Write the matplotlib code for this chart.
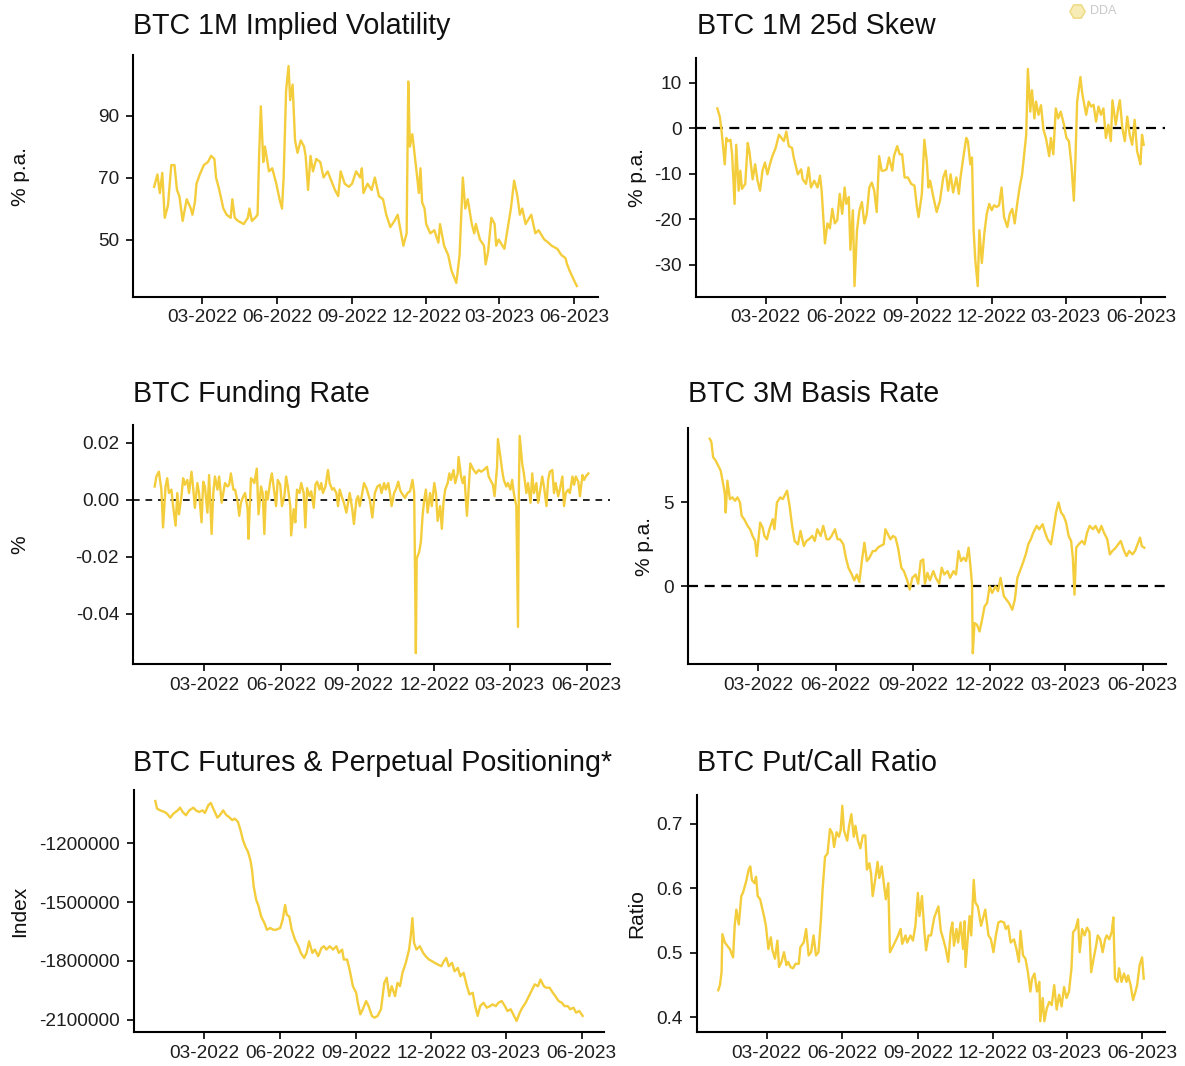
import matplotlib
matplotlib.use("Agg")
import matplotlib.pyplot as plt
import matplotlib.dates as mdates
from matplotlib.lines import Line2D
import numpy as np
import pandas as pd

plt.rcParams['font.family'] = ['Liberation Sans', 'DejaVu Sans']

START = "2022-01-01"
LINE_COLOR = "#F4CD3C"

# ---------------- data: (days since 2022-01-01, value) ----------------
iv = [(0,67),(4,71),(7,65),(10,71.5),(13,57),(17,61),(21,74),(25,74),(28,66),(31,64),(35,56),(40,63),
      (45,60),(47,58),(50,62),(52,68),(56,71),(61,74),(66,75),(70,77),(74,76),(76,70),(80,66),(85,60),
      (89,58),(94,57),(96,63),(99,57),(103,56),(110,55),(115,57),(117,60),(120,56),(124,57),(127,58),
      (129,78),(131,93),(134,75),(136,80),(141,72),(145,73),(150,68),(154,63),(157,60),(159,70),(162,98),
      (165,106),(167,95),(170,100),(173,82),(176,78),(180,82),(184,80),(186,77),(189,66),(192,77),(195,72),
      (199,76),(204,75),(208,70),(213,72),(222,66),(226,64),(229,72),(234,68),(239,67),(243,68),(248,72),
      (253,70),(255,73),(257,65),(262,68),(267,66),(271,70),(276,64),(281,63),(285,58),(290,54),(295,56),
      (299,58),(306,48),(310,52),(312,101),(314,80),(317,84),(320,77),(323,70),(325,65),(327,73),(329,62),
      (332,60),(334,55),(339,52),(344,53),(349,49),(351,55),(356,48),(361,45),(365,40),(371,36),(375,45),
      (379,70),(382,60),(385,63),(390,55),(393,52),(395,55),(400,50),(405,48),(407,42),(410,46),(414,57),
      (418,55),(420,48),(423,50),(430,47),(435,55),(438,60),(442,69),(446,64),(449,58),(452,60),(456,55),
      (463,58),(468,52),(472,53),(479,50),(484,49),(488,48),(495,47),(500,45),(505,44),(507,42),(510,40),
      (517,36),(519,35)]

skew = [(0,4.4),(3,2.6),(5,-0.3),(7,-3.9),(9,-7.9),(11,-2.1),(13,-2.8),(16,-2.5),(18,-5.7),(21,-16.6),
        (23,-3.6),(26,-13.7),(28,-9.3),(30,-13.3),(34,-12.2),(37,-3.2),(39,-5.0),(43,-11.2),(46,-7.9),
        (49,-11.5),(52,-13.7),(55,-9.3),(58,-7.5),(61,-10.1),(64,-7.9),(67,-6.1),(71,-4.3),(75,-1.4),
        (78,-2.1),(81,-2.8),(84,-0.7),(87,-3.9),(91,-4.3),(93,-6.4),(98,-10.1),(102,-9.0),(104,-11.2),
        (108,-12.2),(111,-8.6),(114,-13.0),(118,-11.5),(122,-13.0),(125,-10.4),(127,-13.7),(129,-19.5),
        (131,-25.3),(134,-20.9),(137,-22.0),(140,-17.7),(143,-20.9),(146,-20.2),(149,-14.4),(152,-18.8),
        (155,-13.0),(157,-16.6),(160,-15.1),(162,-26.7),(165,-18.0),(167,-34.7),(170,-22.4),(173,-18.0),
        (176,-16.2),(179,-20.9),(182,-18.8),(185,-13.0),(188,-11.9),(191,-13.7),(194,-18.4),(197,-6.1),
        (200,-9.3),(203,-9.3),(206,-9.0),(209,-6.4),(213,-9.3),(215,-6.1),(219,-3.9),(222,-5.7),(225,-5.7),
        (228,-10.8),(232,-10.8),(236,-12.2),(240,-12.6),(243,-17.3),(245,-19.5),(249,-14.4),(252,-2.5),
        (255,-7.2),(257,-13.0),(259,-11.5),(263,-15.1),(267,-18.4),(271,-15.9),(275,-10.8),(278,-9.3),
        (281,-13.7),(284,-10.1),(287,-14.1),(291,-10.8),(294,-14.4),(296,-10.8),(300,-5.7),(303,-2.1),
        (305,-2.8),(308,-7.9),(310,-6.4),(312,-22.4),(314,-28.9),(317,-34.7),(319,-22.4),(322,-29.6),
        (325,-23.1),(328,-18.8),(331,-16.6),(334,-18.0),(337,-16.9),(340,-17.3),(343,-16.9),(346,-13.0),
        (349,-19.5),(353,-21.7),(356,-18.8),(359,-17.7),(362,-20.9),(365,-16.6),(368,-13.0),(371,-10.1),
        (374,-5.0),(376,-1.4),(378,13.1),(381,3.7),(383,8.4),(386,2.2),(388,5.9),(391,3.0),(394,5.1),
        (397,-0.3),(400,-2.1),(404,-6.1),(406,-2.1),(409,-5.7),(412,4.4),(415,2.2),(418,3.7),(422,0.8),
        (425,-2.1),(428,-2.8),(431,-7.9),(434,-15.9),(436,-6.4),(438,5.9),(442,11.3),(444,8.0),(446,5.9),
        (449,3.0),(452,5.9),(455,4.8),(458,5.2),(461,1.5),(464,4.8),(467,3.0),(470,4.4),(473,-2.1),
        (476,0.8),(479,-2.8),(481,6.2),(485,0.8),(488,4.4),(490,6.2),(493,0.1),(496,-2.8),(499,2.6),
        (502,-1.4),(505,-3.6),(508,1.9),(511,-5.0),(513,-6.4),(515,-7.9),(517,-1.4),(519,-3.6)]

funding = [(0,.0047),(2,.0082),(5,.0099),(8,.0036),(10,-.0097),(13,.0047),(15,.0076),(17,.0024),(20,.0036),
           (22,-.0022),(25,-.0091),(27,.0024),(29,-.0051),(32,.0013),(34,.0076),(36,.0053),(39,.0070),
           (41,.0024),(44,.0099),(46,.0041),(48,-.0028),(51,.0059),(53,.0024),(56,-.0079),(58,.0064),
           (60,.0047),(63,-.0045),(65,.0087),(68,-.0120),(70,.0024),(72,.0082),(75,.0036),(77,.0082),
           (80,-.0010),(82,.0024),(84,.0059),(87,.0047),(89,.0053),(91,.0093),(94,.0036),(96,.0036),
           (99,-.0005),(101,-.0056),(103,-.0010),(106,.0013),(108,.0024),(111,-.0033),(112,-.0137),
           (115,.0076),(117,.0070),(119,.0059),(122,.0110),(124,-.0051),(127,.0047),(129,.0024),
           (131,-.0120),(133,.0030),(135,.0001),(138,.0064),(140,.0093),(143,.0024),(145,-.0022),
           (147,.0070),(150,.0053),(152,-.0022),(155,.0013),(157,.0082),(159,.0047),(162,-.0022),
           (163,-.0125),(166,-.0033),(168,-.0079),(170,.0036),(173,.0024),(175,.0059),(178,.0024),
           (180,-.0097),(182,.0041),(185,.0013),(187,.0030),(190,-.0028),(192,.0053),(194,.0064),
           (197,.0036),(199,.0059),(201,.0024),(204,.0047),(207,.0105),(209,.0059),(212,.0036),
           (214,.0041),(217,.0024),(219,-.0022),(221,.0036),(224,.0007),(226,-.0010),(229,-.0045),
           (231,-.0010),(233,.0024),(236,-.0033),(238,-.0085),(241,.0001),(243,.0013),(245,-.0022),
           (248,.0024),(250,.0059),(253,.0041),(257,.0001),(260,-.0062),(263,.0024),(266,.0047),
           (269,.0053),(271,.0024),(274,.0059),(276,.0036),(279,.0059),(281,.0024),(283,-.0022),
           (286,.0024),(288,.0036),(291,.0064),(293,.0036),(295,.0024),(299,.0007),(302,.0024),
           (305,.0030),(308,.0070),(310,.0024),(312,-.0539),(313,-.0206),(316,-.0183),(318,-.0148),
           (320,-.0056),(322,.0001),(324,.0036),(326,-.0045),(329,.0024),(331,-.0022),(334,.0059),
           (336,.0024),(338,-.0074),(341,-.0022),(343,-.0102),(345,-.0010),(347,.0036),(350,.0059),
           (352,.0093),(354,.0070),(357,.0105),(359,.0059),(362,.0093),(363,.0151),(366,.0082),
           (368,.0059),(370,.0082),(373,-.0056),(375,.0036),(377,.0128),(381,.0105),(384,.0093),
           (387,.0105),(390,.0099),(393,.0105),(397,.0116),(399,.0082),(401,.0070),(404,.0053),
           (406,.0013),(409,.0116),(410,.0214),(413,.0151),(415,.0105),(417,.0070),(420,.0047),
           (422,.0059),(425,.0036),(427,.0070),(429,.0024),(432,-.0022),(434,-.0447),(435,.0024),
           (436,.0225),(439,.0128),(441,.0093),(444,.0024),(446,.0059),(449,-.0010),(451,.0093),
           (453,.0024),(456,.0059),(458,-.0010),(460,.0024),(463,.0082),(465,.0047),(468,-.0022),
           (470,.0070),(472,.0099),(475,.0105),(477,.0024),(479,.0059),(482,.0013),(484,.0036),
           (487,.0082),(489,-.0022),(491,.0024),(494,.0036),(496,.0024),(499,.0082),(501,.0053),
           (503,.0082),(506,.0064),(508,.0013),(511,.0087),(513,.0070),(515,.0082),(518,.0093)]

basis = [(1,8.8),(3,8.6),(5,7.7),(8,7.5),(11,7.2),(14,6.9),(17,6.1),(19,5.5),(20,4.4),(22,6.3),(25,5.2),
         (28,5.3),(31,5.1),(34,5.3),(37,5.0),(39,4.2),(42,4.0),(46,3.6),(49,3.4),(52,3.0),(55,2.7),(57,1.8),
         (59,2.8),(61,3.8),(64,3.5),(66,3.0),(69,2.8),(72,3.4),(76,4.0),(78,3.4),(81,5.0),(85,5.3),(88,5.2),
         (91,5.5),(93,5.7),(96,4.8),(99,3.6),(102,2.7),(106,2.5),(109,3.3),(113,2.4),(116,2.7),(119,2.8),
         (123,3.0),(126,2.7),(129,3.4),(133,3.0),(136,3.6),(140,2.8),(143,2.8),(146,3.0),(150,3.4),
         (153,2.8),(156,2.8),(160,2.5),(163,1.7),(166,1.1),(170,0.7),(173,0.35),(176,0.7),(179,0.25),
         (182,1.5),(185,2.6),(188,1.5),(191,1.7),(195,2.1),(198,2.1),(201,2.3),(204,2.4),(208,2.5),
         (210,3.4),(212,3.2),(216,2.8),(219,3.0),(222,2.9),(225,2.3),(229,1.1),(232,0.9),(236,0.35),
         (239,-0.2),(242,0.5),(246,0.7),(249,0.15),(252,1.5),(255,1.6),(257,0.15),(260,0.8),(263,0.35),
         (267,0.9),(270,0.5),(274,0.15),(277,1.1),(280,0.7),(284,0.9),(287,0.5),(291,0.9),(294,0.7),
         (297,2.1),(300,1.5),(303,1.7),(306,1.5),(309,2.3),(311,1.3),(313,0.15),(314,-4.0),(316,-2.2),
         (319,-2.3),(322,-2.7),(325,-2.0),(328,-1.2),(331,-1.0),(334,0.0),(337,-0.4),(341,0.0),(344,-0.3),
         (347,0.5),(351,-0.6),(354,-0.8),(357,-1.0),(361,-1.4),(364,-0.8),(367,0.5),(370,0.9),(373,1.3),
         (377,1.9),(380,2.5),(383,2.8),(386,3.2),(390,3.6),(393,3.4),(397,3.7),(400,3.2),(403,2.8),
         (407,2.5),(410,3.4),(413,4.4),(416,5.0),(419,4.4),(422,4.2),(425,3.8),(428,3.0),(431,2.7),
         (433,1.7),(435,-0.5),(437,2.3),(440,2.5),(444,2.7),(447,2.5),(450,3.2),(453,3.6),(457,3.4),
         (460,3.6),(464,3.2),(467,3.6),(470,3.2),(474,2.8),(477,1.9),(480,2.1),(484,2.3),(487,2.5),
         (490,2.7),(494,2.1),(497,1.8),(500,2.1),(504,1.9),(507,2.1),(510,2.5),(513,2.9),(515,2.4),
         (518,2.3)]

# positioning index, in thousands
positioning_k = [(0,-983),(2,-1022),(6,-1031),(11,-1039),(14,-1047),(18,-1068),(22,-1047),(27,-1031),
                 (30,-1017),(33,-1039),(37,-1056),(41,-1031),(46,-1017),(49,-1031),(53,-1039),(57,-1031),
                 (60,-1044),(64,-1005),(67,-993),(71,-1031),(75,-1068),(78,-1056),(82,-1031),(86,-1056),
                 (89,-1064),(93,-1081),(96,-1073),(100,-1090),(103,-1132),(106,-1183),(109,-1217),
                 (112,-1242),(115,-1285),(117,-1336),(119,-1420),(122,-1488),(125,-1522),(128,-1573),
                 (132,-1607),(135,-1641),(139,-1632),(143,-1641),(146,-1641),(151,-1632),(154,-1590),
                 (157,-1514),(159,-1564),(162,-1573),(165,-1641),(169,-1692),(173,-1725),(176,-1759),
                 (180,-1785),(183,-1759),(186,-1700),(190,-1759),(193,-1742),(197,-1776),(201,-1734),
                 (204,-1725),(207,-1742),(211,-1725),(215,-1742),(219,-1725),(222,-1759),(226,-1742),
                 (228,-1793),(232,-1793),(235,-1844),(239,-1929),(243,-1963),(245,-2014),(248,-2073),
                 (251,-2047),(255,-2005),(258,-2031),(262,-2081),(265,-2090),(269,-2081),(273,-2047),
                 (277,-1912),(280,-1886),(283,-1980),(286,-1929),(290,-1980),(293,-1912),(296,-1929),
                 (299,-1861),(303,-1810),(307,-1742),(309,-1675),(311,-1581),(313,-1708),(316,-1742),
                 (320,-1725),(324,-1759),(327,-1776),(331,-1793),(335,-1802),(338,-1810),(342,-1819),
                 (346,-1827),(349,-1802),(352,-1785),(355,-1827),(359,-1810),(362,-1853),(366,-1836),
                 (369,-1878),(373,-1861),(377,-1929),(380,-1971),(384,-1963),(387,-2031),(390,-2081),
                 (393,-2031),(397,-2014),(401,-2039),(405,-2031),(408,-2022),(412,-2031),(415,-2014),
                 (419,-2005),(423,-2031),(426,-2056),(430,-2047),(434,-2081),(437,-2107),(441,-2064),
                 (444,-2039),(448,-2014),(452,-1980),(456,-1946),(459,-1920),(463,-1929),(466,-1895),
                 (470,-1929),(473,-1937),(477,-1937),(481,-1963),(484,-1980),(488,-2005),(492,-2014),
                 (495,-2031),(499,-2031),(502,-2047),(506,-2039),(509,-2064),(513,-2056),(517,-2081)]

putcall = [(0,.442),(2,.450),(4,.470),(5,.529),(8,.516),(11,.511),(14,.506),(18,.493),(20,.542),(22,.567),
           (25,.544),(28,.588),(30,.593),(34,.611),(37,.629),(39,.634),(41,.613),(44,.608),(46,.618),
           (48,.588),(51,.583),(53,.572),(56,.555),(58,.542),(61,.506),(64,.524),(66,.504),(69,.491),
           (72,.519),(74,.478),(77,.486),(80,.501),(83,.481),(85,.486),(88,.478),(91,.476),(94,.483),
           (98,.483),(100,.509),(104,.516),(107,.537),(110,.496),(113,.501),(116,.527),(119,.496),
           (122,.501),(125,.552),(127,.598),(130,.649),(133,.654),(136,.692),(139,.685),(141,.664),
           (144,.687),(147,.680),(149,.690),(151,.728),(153,.690),(157,.674),(159,.695),(162,.715),
           (165,.680),(167,.697),(170,.674),(173,.662),(176,.682),(179,.682),(181,.629),(184,.639),
           (186,.623),(188,.588),(191,.613),(194,.641),(196,.616),(199,.634),(202,.603),(204,.583),
           (207,.608),(209,.501),(213,.511),(215,.516),(219,.527),(222,.537),(224,.514),(228,.527),
           (230,.516),(234,.527),(237,.519),(240,.542),(243,.593),(245,.557),(248,.588),(251,.532),
           (253,.504),(256,.527),(259,.527),(263,.555),(268,.572),(271,.534),(274,.521),(277,.506),
           (280,.486),(283,.534),(285,.547),(287,.511),(290,.537),(292,.516),(295,.547),(298,.506),
           (300,.549),(301,.478),(304,.527),(306,.557),(308,.527),(311,.613),(313,.578),(316,.572),
           (320,.542),(323,.557),(325,.567),(329,.527),(332,.521),(335,.501),(338,.527),(341,.547),
           (344,.549),(348,.547),(350,.537),(353,.542),(356,.516),(360,.521),(363,.506),(366,.486),
           (368,.534),(371,.496),(374,.491),(377,.470),(380,.440),(382,.460),(385,.468),(388,.440),
           (391,.455),(392,.394),(395,.430),(397,.394),(400,.414),(403,.424),(406,.419),(409,.450),
           (412,.412),(415,.435),(418,.417),(421,.447),(424,.430),(427,.440),(430,.476),(432,.532),
           (435,.537),(438,.552),(440,.501),(443,.537),(446,.527),(449,.539),(452,.532),(454,.470),
           (457,.491),(460,.511),(462,.527),(465,.521),(468,.501),(471,.521),(473,.527),(476,.521),
           (479,.532),(481,.555),(483,.460),(486,.455),(488,.476),(491,.455),(494,.468),(497,.455),
           (499,.465),(502,.450),(505,.427),(508,.440),(510,.450),(513,.481),(516,.493),(518,.460)]

# ---------------- axis ticks / labels ----------------
x_tick_dates = ["2022-03-01", "2022-06-01", "2022-09-01", "2022-12-01", "2023-03-01", "2023-06-01"]
iv_ticks = [50, 70, 90]
skew_ticks = [-30, -20, -10, 0, 10]
funding_ticks = [-0.04, -0.02, 0.00, 0.02]
basis_ticks = [0, 5]
pos_ticks = [-2100000, -1800000, -1500000, -1200000]
pc_ticks = [0.4, 0.5, 0.6, 0.7]

titles = ["BTC 1M Implied Volatility", "BTC 1M 25d Skew", "BTC Funding Rate",
          "BTC 3M Basis Rate", "BTC Futures & Perpetual Positioning*", "BTC Put/Call Ratio"]
ylabels = ["% p.a.", "% p.a.", "%", "% p.a.", "Index", "Ratio"]


def series(pairs, scale=1.0):
    d, v = zip(*pairs)
    dates = pd.Timestamp(START) + pd.to_timedelta(list(d), unit="D")
    return dates, np.asarray(v, dtype=float) * scale


W, H = 1185, 1066
fig = plt.figure(figsize=(W / 100, H / 100), dpi=100)
fig.patch.set_facecolor("white")


def make_ax(l, t, r, b):
    return fig.add_axes([l / W, 1 - b / H, (r - l) / W, (b - t) / H])


# pixel boxes (left, top, right, bottom), title pos, ylabel x
layout = [
    ((133, 55, 598, 297), (133, 26), 20),
    ((696, 58, 1165, 297), (697, 26), 637),
    ((133, 425, 610, 664), (133, 394), 20),
    ((688, 428, 1166, 664), (688, 394), 645),
    ((134, 790, 604, 1032), (133, 763), 20),
    ((697, 795, 1165, 1032), (697, 763), 637),
]

data = [series(iv), series(skew), series(funding), series(basis),
        series(positioning_k, 1000.0), series(putcall)]
yticks = [iv_ticks, skew_ticks, funding_ticks, basis_ticks, pos_ticks, pc_ticks]
ytick_labels = [[str(t) for t in iv_ticks], [str(t) for t in skew_ticks],
                ["%.2f" % t for t in funding_ticks], [str(t) for t in basis_ticks],
                [str(t) for t in pos_ticks], ["%.1f" % t for t in pc_ticks]]
zero_lines = [None, "thick", "thin", "thick", None, None]

xt = [pd.Timestamp(s) for s in x_tick_dates]

for i, ((box, tpos, ylx), (dates, vals)) in enumerate(zip(layout, data)):
    ax = make_ax(*box)
    ax.plot(dates, vals, color=LINE_COLOR, lw=1.7, solid_joinstyle="round", zorder=3)
    if zero_lines[i] == "thick":
        ax.axhline(0, color="black", lw=1.6, dashes=(4.5, 3.0), zorder=2)
    elif zero_lines[i] == "thin":
        ax.axhline(0, color="black", lw=1.2, dashes=(4.0, 3.5), zorder=2)
    ax.margins(x=0.05, y=0.05)
    ax.set_xticks(xt)
    ax.xaxis.set_major_formatter(mdates.DateFormatter("%m-%Y"))
    ax.set_yticks(yticks[i])
    ax.set_yticklabels(ytick_labels[i])
    for s in ["top", "right"]:
        ax.spines[s].set_visible(False)
    for s in ["left", "bottom"]:
        ax.spines[s].set_linewidth(1.5)
        ax.spines[s].set_color("black")
    ax.tick_params(axis="both", which="major", direction="out", length=5, width=1.2,
                   color="black", labelsize=13.7, labelcolor="#1e1e1e")
    ax.tick_params(axis="x", pad=4)
    ax.tick_params(axis="y", pad=5)
    ax.set_facecolor("white")

    fig.text(tpos[0] / W, 1 - tpos[1] / H, titles[i], fontsize=20.6, ha="left", va="center",
             color="#111111")
    ycen = (box[1] + box[3]) / 2
    fig.text(ylx / W, 1 - ycen / H, ylabels[i], fontsize=15, rotation=90, ha="center",
             va="center", color="#111111")

# faint watermark
fig.add_artist(Line2D([1077 / W], [1 - 11 / H], marker="H", markersize=11,
                      markerfacecolor="#f7ecb5", markeredgecolor="#efd97a", transform=fig.transFigure))
fig.text(1090 / W, 1 - 11 / H, "DDA", fontsize=9, color="#c8c8c8", ha="left", va="center")

fig.savefig("out.png", dpi=100, facecolor="white")
